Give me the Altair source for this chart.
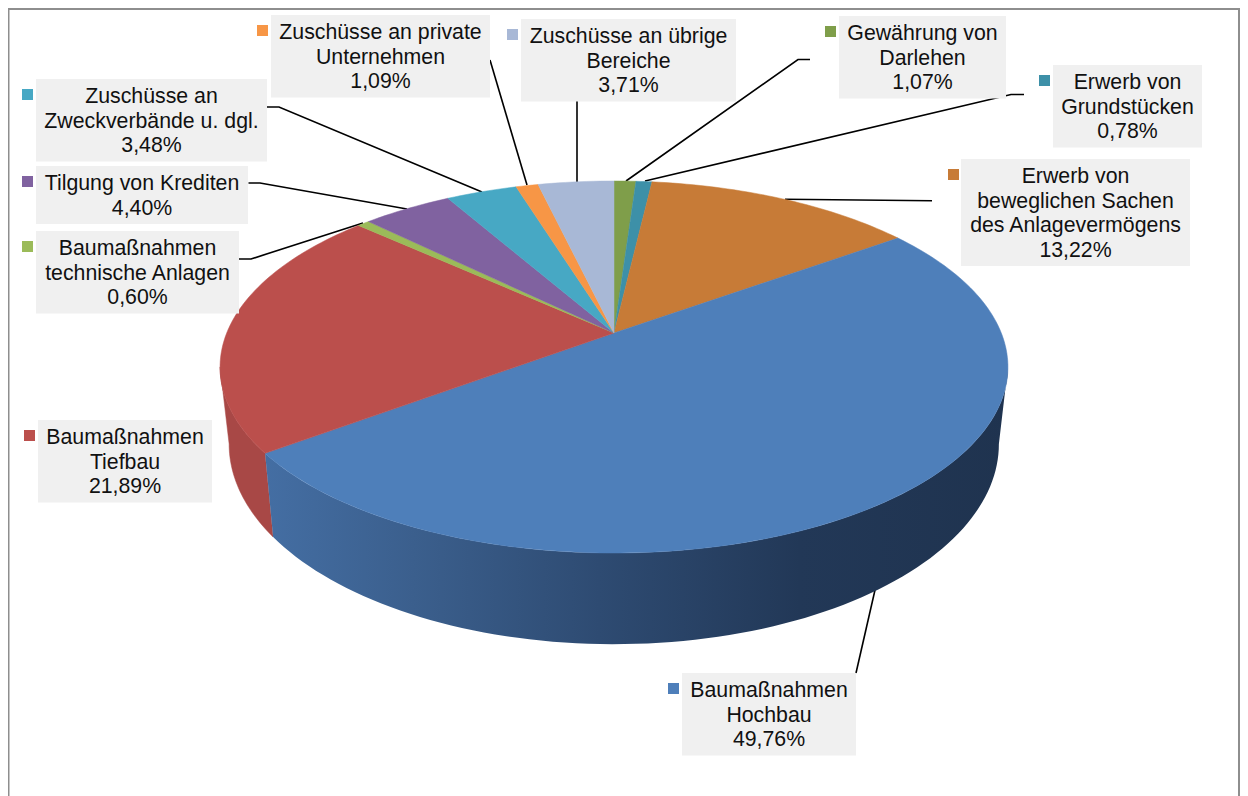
import math
import altair as alt
import pandas as pd

# ---- chart values
names = [
    ["Gewährung von", "Darlehen"],
    ["Erwerb von", "Grundstücken"],
    ["Erwerb von", "beweglichen Sachen", "des Anlagevermögens"],
    ["Baumaßnahmen", "Hochbau"],
    ["Baumaßnahmen", "Tiefbau"],
    ["Baumaßnahmen", "technische Anlagen"],
    ["Tilgung von Krediten"],
    ["Zuschüsse an", "Zweckverbände u. dgl."],
    ["Zuschüsse an private", "Unternehmen"],
    ["Zuschüsse an übrige", "Bereiche"],
]
shares = [1.07, 0.78, 13.22, 49.76, 21.89, 0.60, 4.40, 3.48, 1.09, 3.71]
colors = ["#7f9e4a", "#3d90a8", "#c77b37", "#4e7fba", "#bb4f4c",
          "#9bbb59", "#8062a0", "#47a8c4", "#f79646", "#a8b8d6"]

# ---- label layout (page pixels)
box_left = [839, 1053, 961, 682, 38, 36, 36, 36, 271, 521]
box_right = [1006, 1202, 1190, 856, 212, 239, 248, 267, 490, 736]
box_top = [16, 65, 159, 673, 420, 231, 166, 79, 15, 19]
bullet_left = [825, 1039, 948, 668, 24, 22, 22, 22, 257, 507]
leaders = [
    [(810, 59.5), (798, 59.5), (626, 181)],
    [(1024, 94.5), (1011, 94.5), (645, 181)],
    [(932, 200.7), (785, 199.3)],
    [(856, 673), (875, 590)],
    [],
    [(239, 259), (251, 259), (363, 223)],
    [(248.5, 183), (260, 183), (407, 209)],
    [(267, 107), (279, 107), (482, 192)],
    [(490, 60), (527, 185)],
    [(577, 101), (577, 182)],
]

# ---- pie projection
CX, CY, A, B, K = 614.0, 333.0, 387.3, 179.8, 0.1828
DEPTH, SHRINK = 74.5, 0.977
W, H = 1232, 788


def top(theta):
    u, v = math.sin(theta), -math.cos(theta)
    d = 1 - K * v
    return (CX + A * u / d, CY + B * v / d)


def bottom(theta):
    x, y = top(theta)
    v = -math.cos(theta)
    return (CX + SHRINK * (x - CX), y + DEPTH / (1 - K * v))


def arc(fn, a0, a1, n=90):
    return [list(fn(a0 + (a1 - a0) * i / n)) for i in range(n + 1)]


def feature(points):
    return {"type": "Feature", "properties": {},
            "geometry": {"type": "Polygon", "coordinates": [points + [points[0]]]}}


projection = alt.Projection(type="identity", scale=1, translate=[-8, -8])


def shape(points, **mark):
    return alt.Chart(alt.Data(values=[feature(points)])).mark_geoshape(**mark).properties(projection=projection)


X = lambda f: alt.X(f, type="quantitative", axis=None,
                    scale=alt.Scale(domain=[8, 8 + W], range=[0, W], nice=False, zero=False))
Y = lambda f: alt.Y(f, type="quantitative", axis=None,
                    scale=alt.Scale(domain=[8, 8 + H], range=[0, H], nice=False, zero=False))


def rects(rows, color):
    return alt.Chart(pd.DataFrame(rows, columns=["a", "b", "c", "d"])).mark_rect(color=color, opacity=1).encode(
        x=X("a"), x2="b", y=Y("c"), y2="d")


edges = [0.0]
for s in shares:
    edges.append(edges[-1] + s / sum(shares) * 2 * math.pi)

layers = []

# frame
layers.append(rects([[8, 8 + W, 8, 10], [8, 9.5, 8, 8 + H], [6 + W, 8 + W, 8, 8 + H]], "#8e8e8e"))

# leader lines
rows = []
for i, pts in enumerate(leaders):
    for j, (x, y) in enumerate(pts):
        rows.append({"s": i, "o": j, "x": x, "y": y})
layers.append(alt.Chart(pd.DataFrame(rows)).mark_line(color="#000000", strokeWidth=1.6).encode(
    x=X("x"), y=Y("y"), detail="s:N", order="o:Q"))

# side walls
t_hoch1 = edges[4]
right_t, left_t = math.radians(100.5), math.radians(259.5)
wall_blue = arc(top, right_t, t_hoch1) + arc(bottom, t_hoch1, right_t)
wall_red = arc(top, t_hoch1, left_t, 30) + arc(bottom, left_t, t_hoch1, 30)
wall_gradient = alt.Gradient(
    gradient="linear", x1=0, x2=1, y1=0, y2=0,
    stops=[alt.GradientStop(offset=0, color="#446ea3"),
           alt.GradientStop(offset=0.2, color="#3b5f8d"),
           alt.GradientStop(offset=0.45, color="#2e4b72"),
           alt.GradientStop(offset=0.72, color="#223857"),
           alt.GradientStop(offset=1, color="#1f334f")])
layers.append(shape(wall_red, fill="#a84846", stroke="#a84846", strokeWidth=0.5))
layers.append(shape(wall_blue, fill=wall_gradient, strokeWidth=0))

# top face
for i, c in enumerate(colors):
    pts = [[CX, CY]] + arc(top, edges[i], edges[i + 1], max(4, int(shares[i] * 3)))
    layers.append(shape(pts, fill=c, stroke=c, strokeWidth=0.5))

# label boxes, bullets, text
layers.append(rects([[box_left[i], box_right[i], box_top[i],
                      box_top[i] + 33.5 + 24.5 * len(names[i])] for i in range(len(names))], "#f0f0f0"))
for i, c in enumerate(colors):
    layers.append(rects([[bullet_left[i], bullet_left[i] + 11, box_top[i] + 10, box_top[i] + 21]], c))

text_rows = []
for i, lines in enumerate(names):
    pct = f"{shares[i]:.2f}".replace(".", ",") + "%"
    for j, line in enumerate(lines + [pct]):
        text_rows.append({"t": line, "x": (box_left[i] + box_right[i]) / 2,
                          "y": box_top[i] + 24.3 + 24.5 * j})
layers.append(alt.Chart(pd.DataFrame(text_rows)).mark_text(
    font="Liberation Sans", fontSize=21.3, color="#111111", align="center", baseline="alphabetic"
).encode(x=X("x"), y=Y("y"), text="t:N"))

chart = alt.layer(*layers).properties(width=W, height=H, padding=0, background="#ffffff").configure_view(stroke=None)
chart.save("out.html", embed_options={"renderer": "svg", "actions": False})
